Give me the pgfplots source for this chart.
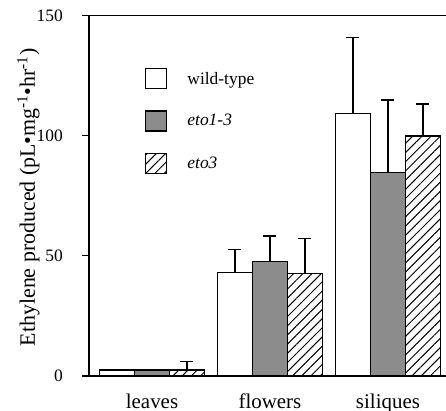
\documentclass[border=0pt]{standalone}
\usepackage{pgfplots}
\usepackage{pgfplotstable}
\pgfplotsset{compat=1.18}
\usepackage{fontspec}
\setmainfont{Liberation Serif}
\usetikzlibrary{patterns.meta}

\pgfplotstableread{
x wt wte e13 e13e e3 e3e
0 2.5 nan 2.5 nan 2.5 3.5
1 43.0 9.7 47.7 10.5 42.5 14.7
2 109.2 31.5 84.7 30.1 99.8 13.3
}\data

\begin{document}
\begin{tikzpicture}
\begin{axis}[name=ax, scale only axis, width=357bp, height=360.7bp,
  ybar=0pt, bar width=0.2966, xmin=-0.534, xmax=2.492, ymin=0, ymax=150,
  clip=false,
  /pgf/number format/assume math mode=true,
  axis x line*=bottom, axis y line*=left,
  axis line style={line width=1.2bp, black},
  xtick={0,1,2}, xticklabels={leaves,flowers,siliques},
  x tick style={draw=none},
  xticklabel style={font=\fontsize{21}{21}\selectfont, anchor=base, yshift=-25bp},
  ytick={0,50,100,150}, tick align=outside, major tick length=7bp,
  y tick style={line width=1.2bp, black},
  yticklabel style={font=\fontsize{17.5}{18}\selectfont, anchor=east, inner sep=0pt},
  yticklabel shift=19bp,
  ylabel={Ethylene produced (pL•mg\textsuperscript{-1}•hr\textsuperscript{-1})},
  ylabel style={font=\fontsize{22}{22}\selectfont, at={(axis description cs:0,0.495)}, anchor=base, yshift=54bp},
  error bars/error bar style={line width=1.2bp, black},
  error bars/error mark=|,
  error bars/error mark options={mark size=6.5bp, line width=1.2bp, black},
  legend image code/.code={\draw[#1, line width=1.2bp] (0bp,-10bp) rectangle (21bp,10bp); \path (39bp,0bp);},
  legend style={at={(rel axis cs:0.157,0.854)}, anchor=north west, draw=none, fill=none,
    inner sep=0pt, row sep=21bp, font=\fontsize{17.5}{18}\selectfont},
  legend cell align=left,
]
\addplot[draw=black, fill=white, line width=1.2bp,
  error bars/.cd, y dir=plus, y explicit]
  table[x=x, y=wt, y error=wte]{\data};
\addlegendentry{wild-type}
\addplot[draw=black, fill=black!45, line width=1.2bp,
  error bars/.cd, y dir=plus, y explicit]
  table[x=x, y=e13, y error=e13e]{\data};
\addlegendentry{\textit{eto1-3}}
\addplot[draw=black, fill=white, postaction={pattern={Lines[angle=45,distance=6.5bp,line width=1bp]}}, line width=1.2bp,
  error bars/.cd, y dir=plus, y explicit]
  table[x=x, y=e3, y error=e3e]{\data};
\addlegendentry{\textit{eto3}}
\draw[line width=1.2bp] (rel axis cs:0,1) -- (rel axis cs:1,1);
\end{axis}
\pgfresetboundingbox
\path ([xshift=-89bp,yshift=-35bp]ax.south west) rectangle ([yshift=15.3bp]ax.north east);
\end{tikzpicture}
\end{document}
